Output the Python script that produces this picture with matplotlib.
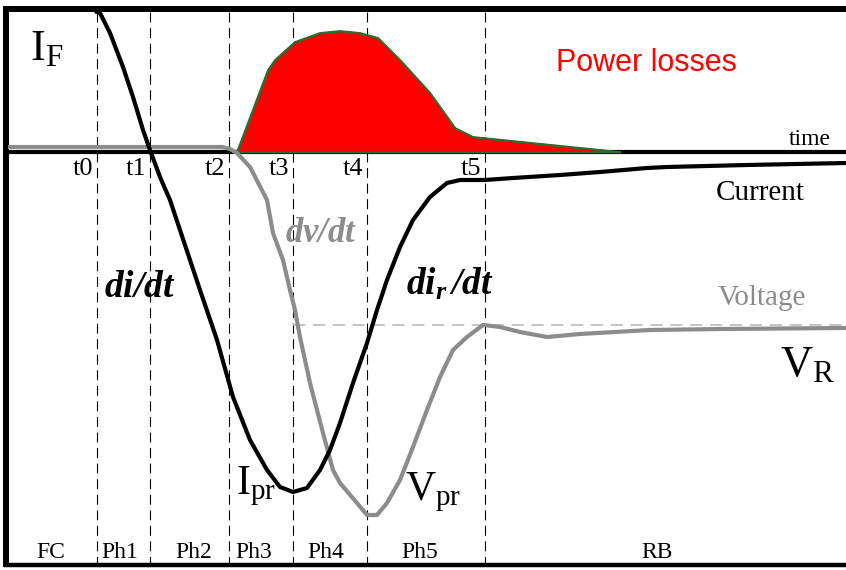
import numpy as np
import matplotlib.pyplot as plt

plt.rcParams['mathtext.fontset'] = 'custom'
plt.rcParams['mathtext.rm'] = 'Liberation Serif'
plt.rcParams['mathtext.it'] = 'Liberation Serif:italic'
plt.rcParams['mathtext.bf'] = 'Liberation Serif:bold'
plt.rcParams['mathtext.bfit'] = 'Liberation Serif:bold:italic'

# time instants (dashed lines) and phase labels
t_marks = [97, 150, 229, 293, 367, 485]
t_labels = ['t0', 't1', 't2', 't3', 't4', 't5']
phase_pos = [51, 120, 194, 254, 326, 420, 657]
phase_labels = ['FC', 'Ph1', 'Ph2', 'Ph3', 'Ph4', 'Ph5', 'RB']

# diode current (axis = 0)
t_cur = [97, 100, 110, 123, 133, 143, 150, 160, 170, 185, 200, 217, 233, 250, 267, 280, 293,
         307, 320, 330, 340, 353, 367, 377, 387, 400, 413, 430, 447, 460, 485, 513, 560,
         600, 647, 667, 747, 846]
i_cur = [140, 139, 119, 85, 55, 22, 2, -25, -48, -93, -138, -188, -245, -288, -318, -335, -340,
         -336, -318, -298, -271, -231, -191, -158, -128, -95, -68, -45, -31, -28, -28, -26, -23,
         -20, -16, -15, -13, -11]

# diode voltage
t_vol = [10, 222, 230, 237, 250, 267, 273, 283, 290, 295, 300, 310, 323, 333, 340, 357, 367,
         377, 387, 400, 413, 427, 440, 453, 467, 483, 500, 520, 547, 580, 650, 720, 846]
v_vol = [5, 5, 3, -1, -15, -48, -81, -108, -138, -158, -185, -231, -281, -318, -331, -351, -363,
         -363, -351, -328, -295, -258, -225, -198, -185, -173, -175, -180, -185, -182, -178, -177, -176]

# power losses
t_pow = [237, 268, 275, 295, 320, 340, 360, 378, 400, 430, 455, 473, 620]
p_pow = [0, 82, 92, 110, 119, 121, 119, 114, 92, 59, 24, 15, 0]

v_r_level = -173
i_f_level = 143

fig = plt.figure(figsize=(8.46, 5.70), dpi=100)
ax = fig.add_axes([0, 0, 1, 1])
ax.set_xlim(0, 846)
ax.set_ylim(-418, 152)
ax.axis('off')

# frame
ax.plot([6, 846], [i_f_level, i_f_level], color='black', lw=4.3, solid_capstyle='butt')
ax.plot([6, 6], [i_f_level + 3, -415], color='black', lw=4.3, solid_capstyle='butt')
ax.plot([4, 846], [-413, -413], color='black', lw=3.2, solid_capstyle='butt')

# time instants
for t in t_marks:
    ax.plot([t, t], [i_f_level - 3, -411], color='black', lw=0.8, dashes=(9, 5))

# time axis
ax.plot([9, 846], [0, 0], color='black', lw=3.0, solid_capstyle='butt', zorder=2)

# reverse voltage level
ax.plot([293, 846], [v_r_level, v_r_level], color='#b4b4b4', lw=1.1, dashes=(8, 5), zorder=2)

# power losses
ax.fill_between(t_pow, p_pow, 0, color='#ff0000', edgecolor='#2f6a2f', lw=1.3, zorder=3)
ax.plot(t_pow, p_pow, color='#2f6a2f', lw=1.3, zorder=4)

# voltage and current
ax.plot(t_vol, v_vol, color='#8c8c8c', lw=3.0, zorder=5)
ax.plot(t_cur, i_cur, color='black', lw=3.0, zorder=6)

serif = 'Liberation Serif'
for t, lab in zip(t_marks, t_labels):
    ax.text(t - 4, -17, lab, ha='right', va='center', fontsize=19, family=serif)
for x, lab in zip(phase_pos, phase_labels):
    ax.text(x, -400, lab, ha='center', va='center', fontsize=17, family=serif)

ax.text(30, 105, r'$\mathrm{I}_\mathrm{F}$', ha='left', va='center', fontsize=32)
ax.text(780, -212, r'$\mathrm{V}_\mathrm{R}$', ha='left', va='center', fontsize=32)
ax.text(236, -334, r'$\mathrm{I}_\mathrm{pr}$', ha='left', va='center', fontsize=30)
ax.text(405, -340, r'$\mathrm{V}_\mathrm{pr}$', ha='left', va='center', fontsize=30)

ax.text(646, 89, 'Power losses', ha='center', va='center', fontsize=22,
        family='Liberation Sans', color='#ff0000')
ax.text(831, 12, 'time', ha='right', va='center', fontsize=17, family=serif)
ax.text(760, -41, 'Current', ha='center', va='center', fontsize=21, family=serif)
ax.text(762, -146, 'Voltage', ha='center', va='center', fontsize=21, family=serif, color='#8c8c8c')

ax.text(140, -135, r'$\mathbfit{di/dt}$', ha='center', va='center', fontsize=27)
ax.text(321, -80, r'$\mathbfit{dv/dt}$', ha='center', va='center', fontsize=25, color='#8c8c8c')
ax.text(450, -132, r'$\mathbfit{di_r\,/dt}$', ha='center', va='center', fontsize=27)

fig.savefig('out.png', dpi=100)
